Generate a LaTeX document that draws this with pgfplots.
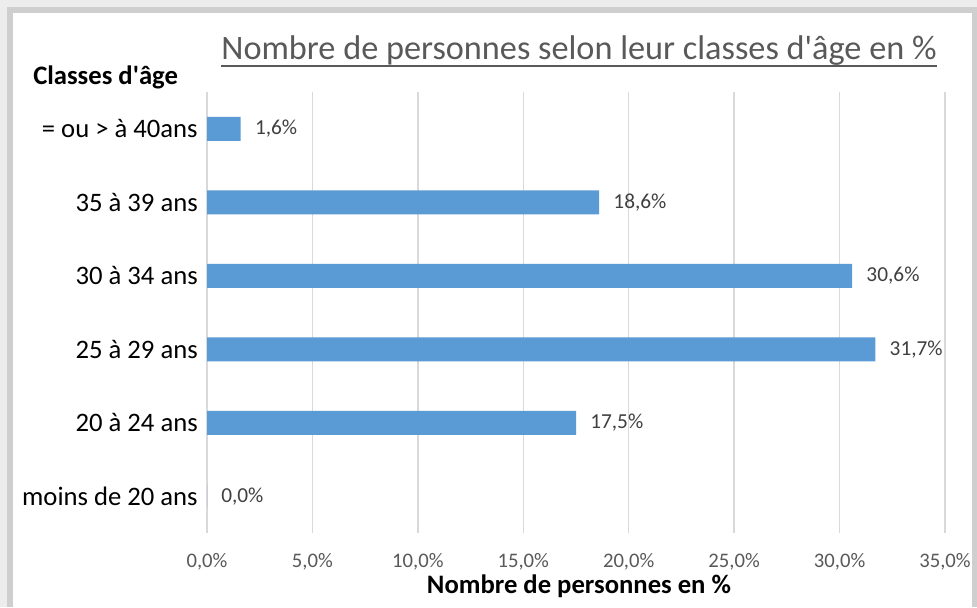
\documentclass[border=0pt]{standalone}
\usepackage{fontspec}
\setmainfont{Carlito}[Ligatures=TeXOff]
\usepackage{pgfplots}
\pgfplotsset{compat=1.18}
\definecolor{barblue}{HTML}{5B9BD5}
\definecolor{gridgray}{HTML}{D9D9D9}
\definecolor{tickgray}{HTML}{595959}
\definecolor{lblgray}{HTML}{404040}
\begin{document}
\begin{tikzpicture}[x=0.75pt,y=0.75pt]
% frame
\fill[white] (0,0) rectangle (977,607);
\fill[gray!14] (0,0) rectangle (7,607);
\fill[gray!14] (0,600) rectangle (977,607);
\fill[gray!38] (7,0) rectangle (13,600);
\fill[gray!38] (7,594) rectangle (977,600);
\fill[gray!38] (972,0) rectangle (977,600);
\begin{axis}[
  at={(155.25pt,55.5pt)}, anchor=south west,
  scale only axis, width=553.5pt, height=330.75pt,
  xbar, bar width=18pt,
  xmin=0, xmax=35, ymin=-0.5, ymax=5.5,
  xtick={0,5,...,35},
  ytick={0,1,2,3,4,5},
  yticklabels={moins de 20 ans,20 à 24 ans,25 à 29 ans,30 à 34 ans,35 à 39 ans,= ou > à 40ans},
  /pgf/number format/.cd, fixed, fixed zerofill, precision=1, use comma, assume math mode=true,
  /pgfplots/.cd,
  xticklabel={\pgfmathprintnumber{\tick}\%},
  xticklabel style={font=\fontsize{15.5}{18}\selectfont, text=tickgray, inner sep=0pt, anchor=north, yshift=-15pt},
  yticklabel style={font=\fontsize{20}{24}\selectfont, text=black, inner sep=0pt, anchor=east, xshift=-2.5pt},
  axis line style={draw=none},
  tick style={draw=none},
  xmajorgrids=true,
  major grid style={gridgray, line width=1.1pt},
  nodes near coords={\pgfmathprintnumber{\pgfplotspointmeta}\%},
  point meta=x,
  every node near coord/.append style={font=\fontsize{16}{19}\selectfont, text=lblgray, anchor=west, inner sep=0pt, xshift=10.5pt},
]
\addplot[fill=barblue, draw=none] coordinates {(0,0) (17.5,1) (31.7,2) (30.6,3) (18.6,4) (1.6,5)};
\end{axis}
\node[inner sep=0pt, anchor=base, font=\fontsize{25.7}{30}\selectfont, text=tickgray] (t) at (579,547) {Nombre de personnes selon leur classes d'âge en \%};
\draw[tickgray, line width=1.1pt] ([yshift=-4.5pt]t.base west) -- ([yshift=-4.5pt]t.base east);
\node[inner sep=0pt, anchor=base west, font=\bfseries\fontsize{20}{24}\selectfont] at (33,522) {Classes d'âge};
\node[inner sep=0pt, anchor=base, font=\bfseries\fontsize{20}{24}\selectfont] at (579,14) {Nombre de personnes en \%};
\end{tikzpicture}
\end{document}
